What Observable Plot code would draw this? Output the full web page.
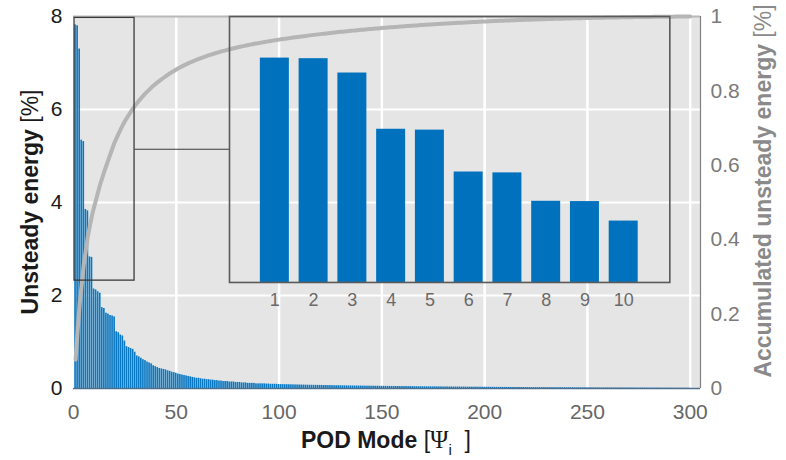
<!DOCTYPE html>
<html><head><meta charset="utf-8">
<script src="https://cdn.jsdelivr.net/npm/d3@7"></script>
<script src="https://cdn.jsdelivr.net/npm/@observablehq/plot@0.6"></script>
<style>
body{margin:0;background:#fff;}
#chart{position:relative;width:786px;height:460px;}
#chart svg{overflow:visible;}
</style></head><body>
<div id="chart"></div>
<script>
// Unsteady energy per POD mode [%], modes 1..300
const energy = [
7.82,7.80,7.30,5.34,5.31,3.85,3.82,2.83,2.82,2.14,
2.12,2.08,2.05,1.74,1.72,1.62,1.60,1.57,1.56,1.54,
1.22,1.20,1.15,1.13,1.02,0.90,0.88,0.86,0.84,0.78,
0.70,0.68,0.65,0.62,0.60,0.57,0.55,0.53,0.49,0.47,
0.45,0.43,0.42,0.41,0.40,0.38,0.37,0.35,0.34,0.33,
0.31,0.30,0.29,0.28,0.27,0.26,0.25,0.24,0.23,0.22,
0.22,0.21,0.20,0.20,0.19,0.19,0.18,0.18,0.17,0.17,
0.16,0.16,0.15,0.15,0.15,0.14,0.14,0.14,0.13,0.13,
0.13,0.12,0.12,0.12,0.11,0.11,0.11,0.11,0.10,0.10,
0.10,0.10,0.10,0.095,0.095,0.09,0.09,0.09,0.09,0.085,
0.084,0.083,0.082,0.081,0.080,0.079,0.078,0.077,0.076,0.075,
0.074,0.073,0.072,0.071,0.070,0.069,0.068,0.068,0.067,0.066,
0.065,0.064,0.063,0.062,0.062,0.061,0.060,0.059,0.059,0.058,
0.057,0.057,0.056,0.055,0.055,0.054,0.053,0.053,0.052,0.052,
0.051,0.051,0.050,0.050,0.049,0.049,0.048,0.048,0.047,0.047,
0.046,0.046,0.045,0.045,0.044,0.044,0.043,0.043,0.042,0.042,
0.041,0.041,0.040,0.040,0.039,0.039,0.038,0.038,0.038,0.037,
0.037,0.036,0.036,0.036,0.035,0.035,0.034,0.034,0.034,0.033,
0.033,0.033,0.032,0.032,0.031,0.031,0.031,0.030,0.030,0.030,
0.029,0.029,0.029,0.028,0.028,0.028,0.027,0.027,0.027,0.026,
0.026,0.026,0.025,0.025,0.025,0.024,0.024,0.024,0.023,0.023,
0.023,0.022,0.022,0.022,0.021,0.021,0.021,0.021,0.020,0.020,
0.020,0.020,0.019,0.019,0.019,0.018,0.018,0.018,0.018,0.017,
0.017,0.017,0.017,0.016,0.016,0.016,0.016,0.015,0.015,0.015,
0.015,0.015,0.014,0.014,0.014,0.014,0.013,0.013,0.013,0.013,
0.013,0.012,0.012,0.012,0.012,0.012,0.011,0.011,0.011,0.011,
0.011,0.010,0.010,0.010,0.010,0.010,0.010,0.009,0.009,0.009,
0.009,0.009,0.009,0.008,0.008,0.008,0.008,0.008,0.008,0.007,
0.007,0.007,0.007,0.007,0.007,0.006,0.006,0.006,0.006,0.006,
0.006,0.005,0.005,0.005,0.005,0.005,0.004,0.004,0.004,0.004
];
const xTicks = [0,50,100,150,200,250,300];
const leftTicks = [0,2,4,6,8];
const rightTicks = [0,0.2,0.4,0.6,0.8,1];
const insetCount = 10;
const xMax = 305;
const yMax = 8;
const zoomModes = [0.5, 29.7];
const zoomEnergy = [2.32, 7.97];
const insetModes = [75.8, 290];
const insetEnergy = [2.28, 8];
const insetXDomain = [-0.17, 11.19];
const insetYMax = 9.27;

(function () {
const total = d3.sum(energy);
let acc = 0;
const data = energy.map((v, i) => ({mode: i + 1, energy: v, cum: (acc += v) / total}));
const insetData = data.slice(0, insetCount);
const connectorY = (zoomEnergy[0] + zoomEnergy[1]) / 2;

const font = "'Liberation Sans', Arial, sans-serif";
const blue = "#0072bd";

const main = Plot.plot({
  width: 786, height: 460,
  marginLeft: 73, marginRight: 86, marginTop: 16, marginBottom: 72,
  style: {fontFamily: font, background: "#fff"},
  x: {domain: [0, xMax]},
  y: {domain: [0, yMax]},
  marks: [
    Plot.frame({fill: "#e5e5e5", stroke: null}),
    Plot.gridX(xTicks, {stroke: "#fff", strokeOpacity: 1, strokeWidth: 2.5}),
    Plot.gridY(leftTicks.slice(1, -1), {stroke: "#fff", strokeOpacity: 1, strokeWidth: 2}),
    Plot.rect(data, {x1: d => d.mode - 0.4, x2: d => d.mode + 0.4, y1: 0, y2: "energy", fill: "#0a78c2"}),
    Plot.ruleY([0], {stroke: "#4f6f8f", strokeWidth: 1.5}),
    Plot.ruleY([yMax], {stroke: "#b8b8b8", strokeWidth: 2}),
    Plot.ruleX([xMax], {stroke: "#808080", strokeWidth: 1.2}),
    Plot.line(data, {x: "mode", y: d => d.cum * yMax, stroke: "#b5b5b5", strokeWidth: 4}),
    Plot.rect([{}], {x1: zoomModes[0], x2: zoomModes[1], y1: zoomEnergy[0], y2: zoomEnergy[1], fill: "none", stroke: "#3a3a3a", strokeWidth: 1.3}),
    Plot.link([{}], {x1: zoomModes[1], x2: insetModes[0], y1: connectorY, y2: connectorY, stroke: "#3a3a3a", strokeWidth: 1.2}),
    Plot.axisY({ticks: leftTicks, tickSize: 0, tickPadding: 11, fontSize: 21, color: "#1a1a1a", label: null}),
    Plot.axisY({anchor: "right", ticks: rightTicks.map(t => t * yMax), tickFormat: d => d3.format("~g")(d / yMax), tickSize: 0, tickPadding: 10, fontSize: 21, color: "#7a7a7a", label: null}),
    Plot.axisX({ticks: xTicks, tickSize: 0, tickPadding: 16, fontSize: 21, color: "#666", label: null})
  ]
});
document.getElementById("chart").appendChild(main);

const svg = d3.select(main);
const lt = svg.append("text").attr("transform", "translate(38,202) rotate(-90)")
  .attr("text-anchor", "middle").style("font-size", "23px").style("font-family", font).attr("fill", "#1a1a1a");
lt.append("tspan").attr("font-weight", "bold").text("Unsteady energy ");
lt.append("tspan").text("[%]");
const rt = svg.append("text").attr("transform", "translate(771,191) rotate(-90)")
  .attr("text-anchor", "middle").style("font-size", "23px").style("font-family", font).attr("fill", "#8a8a8a");
rt.append("tspan").attr("font-weight", "bold").text("Accumulated unsteady energy ");
rt.append("tspan").text("[%]");
const bt = svg.append("text").attr("x", 386).attr("y", 448)
  .attr("text-anchor", "middle").style("font-size", "23px").style("font-family", font).attr("fill", "#1a1a1a");
bt.append("tspan").attr("font-weight", "bold").text("POD Mode ");
bt.append("tspan").text("[");
bt.append("tspan").style("font-family", "'Liberation Serif', 'DejaVu Serif', serif").style("font-size", "25px").text("Ψ");
bt.append("tspan").attr("dy", 7).style("font-size", "15px").text("i");
bt.append("tspan").attr("dy", -7).text("  ]");

const sx = main.scale("x"), sy = main.scale("y");
const pxLeft = sx.apply(insetModes[0]), pxRight = sx.apply(insetModes[1]);
const pxTop = sy.apply(insetEnergy[1]), pxBottom = sy.apply(insetEnergy[0]);
const m = 2;
const inset = Plot.plot({
  width: pxRight - pxLeft + 2 * m, height: pxBottom - pxTop + m + 32,
  marginLeft: m, marginRight: m, marginTop: m, marginBottom: 32,
  style: {fontFamily: font, background: "transparent", overflow: "visible"},
  x: {domain: insetXDomain},
  y: {domain: [0, insetYMax], axis: null},
  marks: [
    Plot.rect(insetData, {x1: d => d.mode - 0.374, x2: d => d.mode + 0.374, y1: 0, y2: "energy", fill: blue}),
    Plot.frame({stroke: "#5a5a5a", strokeWidth: 1.6}),
    Plot.axisX({ticks: insetData.map(d => d.mode), tickFormat: d3.format("d"), tickSize: 0, tickPadding: 11, fontSize: 18, color: "#6a6a6a", label: null})
  ]
});
inset.style.position = "absolute";
inset.style.left = (pxLeft - m) + "px";
inset.style.top = (pxTop - m) + "px";
document.getElementById("chart").appendChild(inset);
})();
</script>
</body></html>
